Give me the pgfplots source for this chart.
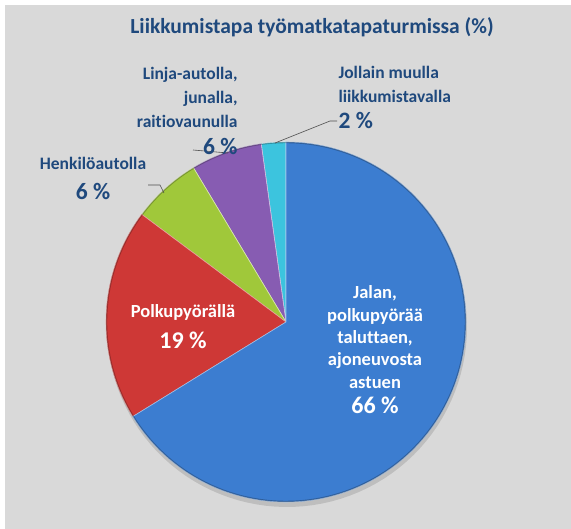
\documentclass[border=0pt]{standalone}
\usepackage{pgfplots}
\pgfplotsset{compat=1.18}
\usepackage{fontspec}
\setmainfont[Ligatures={NoCommon}]{Carlito}
\definecolor{bgGray}{RGB}{217,217,217}
\definecolor{txtBlue}{RGB}{31,73,125}
\definecolor{cBlue}{RGB}{60,125,208}
\definecolor{cRed}{RGB}{206,56,54}
\definecolor{cGreen}{RGB}{160,200,58}
\definecolor{cPurple}{RGB}{135,92,178}
\definecolor{cCyan}{RGB}{60,196,222}
% data (percent)
\def\vJollain{2.2}
\def\vLinja{6.4}
\def\vHenk{6.2}
\def\vPolku{19.0}
\def\vJalan{66.2}
\pgfmathsetmacro{\aA}{90}
\pgfmathsetmacro{\aB}{\aA+3.6*\vJollain}
\pgfmathsetmacro{\aC}{\aB+3.6*\vLinja}
\pgfmathsetmacro{\aD}{\aC+3.6*\vHenk}
\pgfmathsetmacro{\aE}{\aD+3.6*\vPolku}
\pgfmathsetmacro{\aF}{\aE+3.6*\vJalan}
\def\cx{286}
\def\cy{207}
\def\R{180}
\begin{document}
\begin{tikzpicture}
\fill[white] (0,0) rectangle (571bp,529bp);
\fill[bgGray] (5bp,0) rectangle (571bp,524bp);
\begin{axis}[
  scale only axis, width=571bp, height=529bp,
  xmin=0, xmax=571, ymin=0, ymax=529,
  hide axis, clip=false,
]
% shadow
\addplot[fill=black, fill opacity=0.12, draw=none, domain=0:360, samples=120, variable=\t]
  ({\cx+1+\R*cos(t)}, {\cy-5+\R*sin(t)});
% slices
\addplot[fill=cCyan, draw=white!70!cCyan, line width=0.6pt, domain=\aA:\aB, samples=10, variable=\t]
  ({\cx+\R*cos(t)}, {\cy+\R*sin(t)}) -- (axis cs:\cx,\cy) -- cycle;
\addplot[fill=cPurple, draw=white!60!cPurple, line width=0.6pt, domain=\aB:\aC, samples=20, variable=\t]
  ({\cx+\R*cos(t)}, {\cy+\R*sin(t)}) -- (axis cs:\cx,\cy) -- cycle;
\addplot[fill=cGreen, draw=white!60!cGreen, line width=0.6pt, domain=\aC:\aD, samples=20, variable=\t]
  ({\cx+\R*cos(t)}, {\cy+\R*sin(t)}) -- (axis cs:\cx,\cy) -- cycle;
\addplot[fill=cRed, draw=white!50!cRed, line width=0.6pt, domain=\aD:\aE, samples=40, variable=\t]
  ({\cx+\R*cos(t)}, {\cy+\R*sin(t)}) -- (axis cs:\cx,\cy) -- cycle;
\addplot[fill=cBlue, draw=white!50!cBlue, line width=0.6pt, domain=\aE:\aF, samples=120, variable=\t]
  ({\cx+\R*cos(t)}, {\cy+\R*sin(t)}) -- (axis cs:\cx,\cy) -- cycle;
% rim
\addplot[draw=black, draw opacity=0.25, line width=1.2pt, domain=0:360, samples=180, variable=\t]
  ({\cx+(\R-0.6)*cos(t)}, {\cy+(\R-0.6)*sin(t)});
% leader lines
\draw[black!70, line width=0.6pt] (axis cs:193,379) -- (axis cs:228,376);
\draw[black!70, line width=0.6pt] (axis cs:275,386) -- (axis cs:330,408) -- (axis cs:337,408);
\draw[black!70, line width=0.6pt] (axis cs:148,344) -- (axis cs:160,344) -- (axis cs:164,336);
% title
\node[font=\fontsize{21.5bp}{25bp}\selectfont\bfseries, text=txtBlue] at (axis cs:312,502) {Liikkumistapa työmatkatapaturmissa (\%)};
% outside labels
\node[font=\fontsize{17.5bp}{24bp}\selectfont\bfseries, text=txtBlue, align=right, anchor=east] at (axis cs:241,432)
  {Linja-autolla,\\junalla,\\raitiovaunulla};
\node[font=\fontsize{23.5bp}{26bp}\selectfont\bfseries, text=txtBlue, anchor=east] at (axis cs:241,382) {6 \%};
\node[font=\fontsize{17.5bp}{24bp}\selectfont\bfseries, text=txtBlue, align=left, anchor=west] at (axis cs:335,445)
  {Jollain muulla\\liikkumistavalla};
\node[font=\fontsize{23.5bp}{26bp}\selectfont\bfseries, text=txtBlue, anchor=west] at (axis cs:335,408) {2 \%};
\node[font=\fontsize{17.5bp}{24bp}\selectfont\bfseries, text=txtBlue] at (axis cs:93,366) {Henkilöautolla};
\node[font=\fontsize{23.5bp}{26bp}\selectfont\bfseries, text=txtBlue] at (axis cs:93,337) {6 \%};
% inside labels
\node[font=\fontsize{18.5bp}{24bp}\selectfont\bfseries, text=white] at (axis cs:183,217) {Polkupyörällä};
\node[font=\fontsize{24bp}{26bp}\selectfont\bfseries, text=white] at (axis cs:183,189) {19 \%};
\node[font=\fontsize{18.5bp}{22.3bp}\selectfont\bfseries, text=white, align=center] at (axis cs:375,192)
  {Jalan,\\polkupyörää\\taluttaen,\\ajoneuvosta\\astuen};
\node[font=\fontsize{24bp}{26bp}\selectfont\bfseries, text=white] at (axis cs:375,124) {66 \%};
\end{axis}
\end{tikzpicture}
\end{document}
